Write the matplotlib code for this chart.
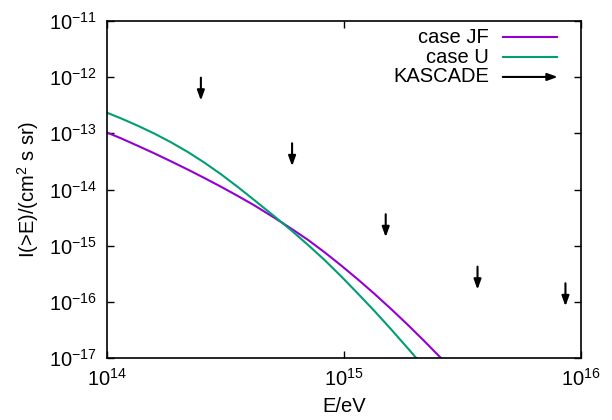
import matplotlib
matplotlib.use('Agg')
import matplotlib.pyplot as plt

plt.rcParams['font.family'] = ['Liberation Sans', 'DejaVu Sans']
plt.rcParams['font.size'] = 14.5
plt.rcParams['mathtext.default'] = 'regular'
plt.rcParams['axes.unicode_minus'] = False

# case JF
e_jf = [1.0e14, 1.148e14, 1.349e14, 1.585e14, 1.866e14, 2.193e14, 2.576e14,
        3.034e14, 3.565e14, 4.188e14, 5.093e14, 5.984e14, 7.031e14, 8.279e14,
        9.727e14, 1.143e15, 1.346e15, 1.581e15, 1.858e15, 2.188e15, 2.570e15,
        2.818e15]
i_jf = [1.035e-13, 8.128e-14, 5.998e-14, 4.395e-14, 3.162e-14, 2.265e-14,
        1.603e-14, 1.114e-14, 7.674e-15, 5.212e-15, 3.126e-15, 2.018e-15,
        1.279e-15, 7.638e-16, 4.446e-16, 2.523e-16, 1.384e-16, 7.447e-17,
        3.908e-17, 1.982e-17, 9.908e-18, 6.607e-18]

# case U
e_u = [1.0e14, 1.148e14, 1.349e14, 1.585e14, 1.866e14, 2.193e14, 2.576e14,
       3.034e14, 3.565e14, 4.188e14, 5.093e14, 5.984e14, 7.031e14, 8.279e14,
       9.727e14, 1.143e15, 1.346e15, 1.581e15, 1.858e15, 2.018e15, 2.188e15]
i_u = [2.328e-13, 1.841e-13, 1.366e-13, 9.897e-14, 6.902e-14, 4.656e-14,
       3.013e-14, 1.858e-14, 1.109e-14, 6.457e-15, 3.311e-15, 1.884e-15,
       1.042e-15, 5.559e-16, 2.851e-16, 1.413e-16, 6.839e-17, 3.236e-17,
       1.496e-17, 1.0e-17, 6.683e-18]

# KASCADE upper limits
e_kascade = [2.49e14, 6.04e14, 1.50e15, 3.66e15, 8.6e15]
i_kascade = [9.8e-13, 6.65e-14, 3.63e-15, 4.23e-16, 2.14e-16]

xticks = [1e14, 1e15, 1e16]
yticks = [1e-17, 1e-16, 1e-15, 1e-14, 1e-13, 1e-12, 1e-11]

col_jf = '#9400d3'
col_u = '#009e73'

fig = plt.figure(figsize=(6.12, 4.2), dpi=100)
ax = fig.add_axes([0.1748, 0.1476, 0.7745, 0.8024])

ax.plot(e_jf, i_jf, color=col_jf, lw=1.5)
ax.plot(e_u, i_u, color=col_u, lw=1.5)

arrow_kw = dict(arrowstyle='-|>,head_length=0.5,head_width=0.18', color='black',
                lw=1.5, shrinkA=0, shrinkB=0, mutation_scale=12)
for e, i in zip(e_kascade, i_kascade):
    ax.annotate('', xy=(e, i * 0.39), xytext=(e, i), arrowprops=arrow_kw)

ax.set_xscale('log')
ax.set_yscale('log')
ax.set_xticks(xticks)
ax.set_yticks(yticks)
ax.set_xlim(1e14, 1e16)
ax.set_ylim(1e-17, 1e-11)
ax.minorticks_off()
ax.tick_params(direction='in', length=5, width=1, top=True, right=True)
ax.tick_params(axis='x', pad=7)
ax.tick_params(axis='y', pad=7)
for s in ax.spines.values():
    s.set_linewidth(1.2)

ax.set_xlabel('E/eV', labelpad=5)
ax.set_ylabel('I(>E)/(cm$^2$ s sr)', labelpad=6)

# legend, gnuplot style (text right-aligned, sample on the right)
rows = [('case JF', col_jf, 0.952), ('case U', col_u, 0.893), ('KASCADE', 'black', 0.834)]
for lab, c, y in rows:
    ax.text(0.806, y, lab, transform=ax.transAxes, ha='right', va='center')
    if lab == 'KASCADE':
        ax.annotate('', xy=(0.951, y), xytext=(0.835, y), xycoords='axes fraction',
                    arrowprops=arrow_kw)
    else:
        ax.plot([0.835, 0.949], [y, y], color=c, lw=1.5, transform=ax.transAxes)

fig.savefig('out.png', dpi=100)
